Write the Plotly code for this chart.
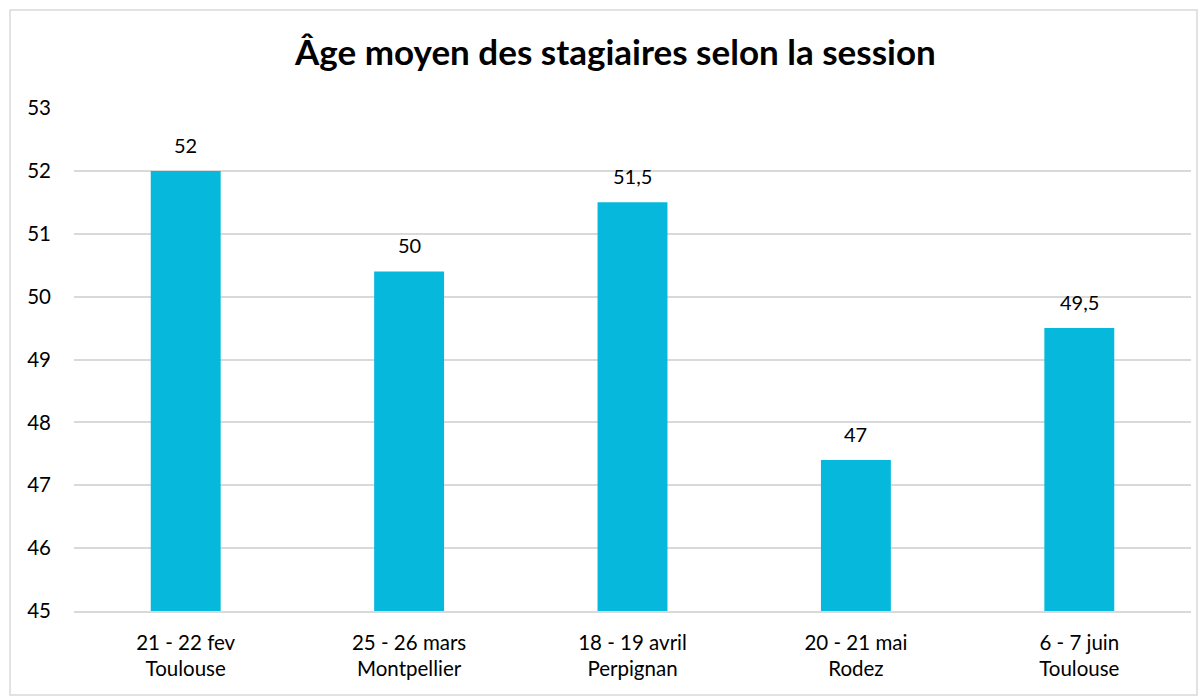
import plotly.graph_objects as go

categories = ["21 - 22 fev<br>Toulouse", "25 - 26 mars<br>Montpellier", "18 - 19 avril<br>Perpignan",
              "20 - 21 mai<br>Rodez", "6 - 7 juin<br>Toulouse"]
values = [52, 50.4, 51.5, 47.4, 49.5]
labels = ["52", "50", "51,5", "47", "49,5"]
y_ticks = [45, 46, 47, 48, 49, 50, 51, 52, 53]

FONT = "Lato, Carlito, 'Open Sans', sans-serif"

fig = go.Figure(go.Bar(
    x=categories, y=values,
    marker=dict(color="#06B9DC", line=dict(width=0)),
    width=0.313, hoverinfo="x+y",
))

for c, v, s in zip(categories, values, labels):
    fig.add_annotation(x=c, y=v, text=s, showarrow=False, yanchor="middle",
                       yshift=26, font=dict(size=20, color="#000000", family=FONT))

W, H = 1202, 697
l, r, t, b = 74, 11, 108, 86
pw, ph = W - l - r, H - t - b

fig.update_layout(
    width=W, height=H,
    margin=dict(l=l, r=r, t=t, b=b),
    paper_bgcolor="white", plot_bgcolor="white",
    showlegend=False,
    title=dict(text="<b>Âge moyen des stagiaires selon la session</b>",
               x=0.512, xanchor="center", y=1 - 53 / H, yanchor="middle",
               font=dict(size=35, color="#000000", family=FONT)),
    xaxis=dict(showgrid=False, showline=True, linecolor="#D9D9D9", linewidth=2,
               ticks="", ticklabelstandoff=12,
               tickfont=dict(size=20.5, color="#000000", family=FONT)),
    yaxis=dict(range=[45, 53], tickvals=y_ticks, showgrid=True, gridcolor="#D9D9D9",
               gridwidth=1.5, zeroline=False, showline=False, ticks="",
               ticklabelstandoff=22,
               tickfont=dict(size=20.5, color="#000000", family=FONT)),
    shapes=[dict(type="rect", xref="paper", yref="paper",
                 x0=(10 - l) / pw, x1=(1197 - l) / pw,
                 y0=(H - b - 695) / ph, y1=(H - b - 10) / ph,
                 line=dict(color="#D9D9D9", width=1.5), fillcolor="rgba(0,0,0,0)", layer="below")],
)

fig.write_html("out.html", config={"displayModeBar": False},
               post_script="document.body.style.margin='0';")
